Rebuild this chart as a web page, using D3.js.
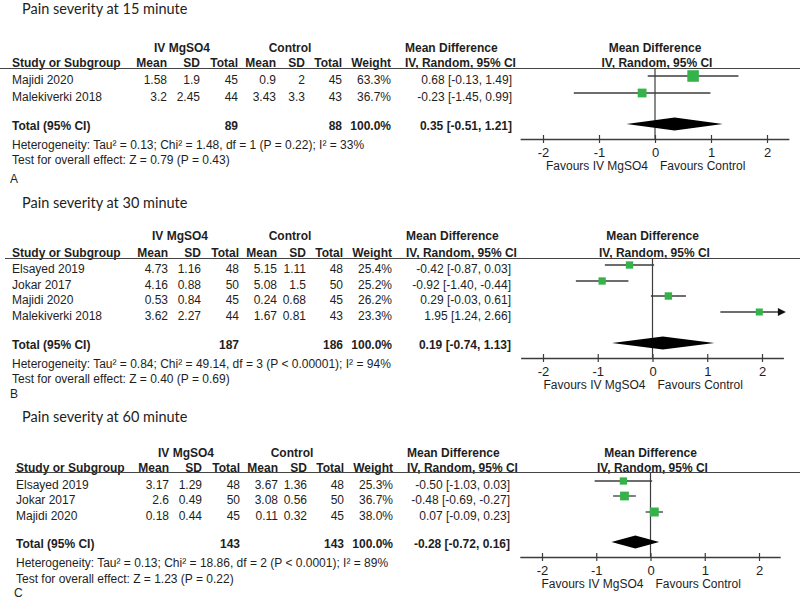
<!DOCTYPE html>
<html><head><meta charset="utf-8">
<script src="https://cdn.jsdelivr.net/npm/d3@7"></script>
<style>body{margin:0;background:#fff} svg{display:block}</style>
</head><body><svg id="c" width="800" height="599"></svg>
<script>
// ---- data ----
const panelTitles = ["Pain severity at 15 minute", "Pain severity at 30 minute", "Pain severity at 60 minute"];
const panelLetters = ["A", "B", "C"];
const tickValues = [-2, -1, 0, 1, 2];
const totalWeight = 100.0;

// A: 15 minute
const studiesA = ["Majidi 2020", "Malekiverki 2018"];
const mgA = [[1.58, 1.9, 45], [3.2, 2.45, 44]];          // mean, sd, total
const ctlA = [[0.9, 2, 45], [3.43, 3.3, 43]];
const weightA = [63.3, 36.7];
const mdA = [[0.68, -0.13, 1.49], [-0.23, -1.45, 0.99]]; // md, lo, hi
const totalNA = [89, 88];
const totalMdA = [0.35, -0.51, 1.21];
const hetA = "Heterogeneity: Tau\u00b2 = 0.13; Chi\u00b2 = 1.48, df = 1 (P = 0.22); I\u00b2 = 33%";
const testA = "Test for overall effect: Z = 0.79 (P = 0.43)";

// B: 30 minute
const studiesB = ["Elsayed 2019", "Jokar 2017", "Majidi 2020", "Malekiverki 2018"];
const mgB = [[4.73, 1.16, 48], [4.16, 0.88, 50], [0.53, 0.84, 45], [3.62, 2.27, 44]];
const ctlB = [[5.15, 1.11, 48], [5.08, 1.5, 50], [0.24, 0.68, 45], [1.67, 0.81, 43]];
const weightB = [25.4, 25.2, 26.2, 23.3];
const mdB = [[-0.42, -0.87, 0.03], [-0.92, -1.40, -0.44], [0.29, -0.03, 0.61], [1.95, 1.24, 2.66]];
const totalNB = [187, 186];
const totalMdB = [0.19, -0.74, 1.13];
const hetB = "Heterogeneity: Tau\u00b2 = 0.84; Chi\u00b2 = 49.14, df = 3 (P < 0.00001); I\u00b2 = 94%";
const testB = "Test for overall effect: Z = 0.40 (P = 0.69)";

// C: 60 minute
const studiesC = ["Elsayed 2019", "Jokar 2017", "Majidi 2020"];
const mgC = [[3.17, 1.29, 48], [2.6, 0.49, 50], [0.18, 0.44, 45]];
const ctlC = [[3.67, 1.36, 48], [3.08, 0.56, 50], [0.11, 0.32, 45]];
const weightC = [25.3, 36.7, 38.0];
const mdC = [[-0.50, -1.03, 0.03], [-0.48, -0.69, -0.27], [0.07, -0.09, 0.23]];
const totalNC = [143, 143];
const totalMdC = [-0.28, -0.72, 0.16];
const hetC = "Heterogeneity: Tau\u00b2 = 0.13; Chi\u00b2 = 18.86, df = 2 (P < 0.0001); I\u00b2 = 89%";
const testC = "Test for overall effect: Z = 1.23 (P = 0.22)";

// ---- layout ----
const panels = [
  {studies: studiesA, mg: mgA, ctl: ctlA, w: weightA, md: mdA, tn: totalNA, tmd: totalMdA, het: hetA, test: testA,
   L: {title: 14, grp: 52, hdr: 67, line: 68, lineX0: 0, rows: [84, 101], total: 130, het: 149, test: 164, letter: 183,
       axisY: 139, xr: [543, 767], left: 12, dx: 0, grpC: [182, 290]}},
  {studies: studiesB, mg: mgB, ctl: ctlB, w: weightB, md: mdB, tn: totalNB, tmd: totalMdB, het: hetB, test: testB,
   L: {title: 208, grp: 240, hdr: 257, line: 258, lineX0: 5, rows: [273, 289, 304, 320], total: 349, het: 368, test: 383, letter: 398,
       axisY: 358, xr: [543, 762], left: 12, dx: 1, grpC: [180, 290]}},
  {studies: studiesC, mg: mgC, ctl: ctlC, w: weightC, md: mdC, tn: totalNC, tmd: totalMdC, het: hetC, test: testC,
   L: {title: 422, grp: 457, hdr: 472, line: 472, lineX0: 15, rows: [489, 504, 520], total: 548, het: 567, test: 583, letter: 597,
       axisY: 557, xr: [542, 759], left: 16, dx: 2, grpC: [186, 292]}}
];

const svg = d3.select("#c");
const FONT = "'Liberation Sans', Arial, sans-serif";
const TXT = "#1e1e1e";
const LINE = "#3c3c3c";
const GREEN = "#35b34a";
const sizeScale = d3.scaleSqrt().domain([0, 100]).range([0, 14.5]);

function txt(g, x, y, s, opts = {}) {
  return g.append("text").attr("x", x).attr("y", y).text(s)
    .attr("font-family", opts.family || FONT)
    .attr("font-size", opts.size || 12)
    .attr("font-weight", opts.bold ? "bold" : "normal")
    .attr("text-anchor", opts.anchor || "start")
    .attr("fill", TXT);
}

const fmtMd = r => `${r[0].toFixed(2)} [${r[1].toFixed(2)}, ${r[2].toFixed(2)}]`;

panels.forEach((p, pi) => {
  const L = p.L;
  const g = svg.append("g");
  const cx = [167, 200, 238, 276, 305, 342, 391].map(v => v + L.dx);

  // title & letter
  txt(g, 22, L.title, panelTitles[pi], {family: "Lato, 'Open Sans', sans-serif", size: 14.5});
  txt(g, L.left - 2, L.letter, panelLetters[pi], {size: 12});

  // group headers
  txt(g, L.grpC[0], L.grp, "IV MgSO4", {bold: true, anchor: "middle"});
  txt(g, L.grpC[1], L.grp, "Control", {bold: true, anchor: "middle"});
  txt(g, 405 + L.dx, L.grp, "Mean Difference", {bold: true});

  // x scale for forest plot
  const x = d3.scaleLinear().domain([-2.4, 2.4])
    .range([L.xr[0] - 0.4 * (L.xr[1] - L.xr[0]) / 4, L.xr[1] + 0.4 * (L.xr[1] - L.xr[0]) / 4]);
  const x0 = x(0);
  txt(g, x0, L.grp, "Mean Difference", {bold: true, anchor: "middle"});

  // column headers
  txt(g, L.left, L.hdr, "Study or Subgroup", {bold: true});
  ["Mean", "SD", "Total", "Mean", "SD", "Total", "Weight"].forEach((h, i) =>
    txt(g, cx[i], L.hdr, h, {bold: true, anchor: "end"}));
  txt(g, 405 + L.dx, L.hdr, "IV, Random, 95% CI", {bold: true});
  txt(g, x0 + 2, L.hdr, "IV, Random, 95% CI", {bold: true, anchor: "middle"});

  g.append("line").attr("x1", L.lineX0).attr("x2", 800).attr("y1", L.line + 0.5).attr("y2", L.line + 0.5)
    .attr("stroke", "#444").attr("stroke-width", 1.2);

  // rows
  p.studies.forEach((s, i) => {
    const y = L.rows[i];
    txt(g, L.left, y, s);
    const vals = [p.mg[i][0], p.mg[i][1], p.mg[i][2], p.ctl[i][0], p.ctl[i][1], p.ctl[i][2]];
    vals.forEach((v, j) => txt(g, cx[j], y, String(v), {anchor: "end"}));
    txt(g, cx[6], y, p.w[i].toFixed(1) + "%", {anchor: "end"});
    txt(g, 512 - L.dx, y, fmtMd(p.md[i]), {anchor: "end"});
  });

  // totals
  txt(g, L.left, L.total, "Total (95% CI)", {bold: true});
  txt(g, cx[2], L.total, String(p.tn[0]), {bold: true, anchor: "end"});
  txt(g, cx[5], L.total, String(p.tn[1]), {bold: true, anchor: "end"});
  txt(g, cx[6], L.total, totalWeight.toFixed(1) + "%", {bold: true, anchor: "end"});
  txt(g, 512 - L.dx, L.total, fmtMd(p.tmd), {bold: true, anchor: "end"});
  txt(g, L.left, L.het, p.het);
  txt(g, L.left, L.test, p.test);

  // forest plot: zero line
  g.append("line").attr("x1", x0).attr("x2", x0).attr("y1", L.line).attr("y2", L.axisY)
    .attr("stroke", LINE).attr("stroke-width", 1.2);

  // axis
  const axis = d3.axisBottom(x).tickValues(tickValues).tickFormat(d => String(d)).tickSize(4).tickPadding(5);
  const ag = g.append("g").attr("transform", `translate(0,${L.axisY})`).call(axis);
  ag.select(".domain").attr("d", `M${x.range()[0]},0.5H${x.range()[1]}`).attr("stroke", LINE).attr("stroke-width", 1.3);
  ag.selectAll(".tick line").attr("y1", -4).attr("y2", 4).attr("stroke", LINE).attr("stroke-width", 1.2);
  ag.selectAll(".tick text").attr("font-family", FONT).attr("font-size", 13).attr("fill", TXT);
  txt(g, x0 - 7, L.axisY + 31, "Favours IV MgSO4", {anchor: "end", size: 12});
  txt(g, x0 + 5, L.axisY + 31, "Favours Control", {size: 12});

  const [dmin, dmax] = x.domain();
  // study CIs and squares
  p.md.forEach((r, i) => {
    const y = L.rows[i] - 8;
    const lo = Math.max(r[1], dmin), hi = Math.min(r[2], dmax);
    g.append("line").attr("x1", x(lo)).attr("x2", x(hi)).attr("y1", y).attr("y2", y)
      .attr("stroke", LINE).attr("stroke-width", 1.3);
    if (r[2] > dmax) {
      const xe = x(dmax);
      g.append("path").attr("d", `M${xe + 2},${y}L${xe - 6},${y - 4}L${xe - 6},${y + 4}Z`).attr("fill", "#111");
    }
    if (r[1] < dmin) {
      const xe = x(dmin);
      g.append("path").attr("d", `M${xe - 2},${y}L${xe + 6},${y - 4}L${xe + 6},${y + 4}Z`).attr("fill", "#111");
    }
    const s = sizeScale(p.w[i]);
    g.append("rect").attr("x", x(r[0]) - s / 2).attr("y", y - s / 2).attr("width", s).attr("height", s)
      .attr("fill", GREEN);
  });

  // pooled diamond
  const yd = L.total - 6;
  const t = p.tmd;
  g.append("path")
    .attr("d", `M${x(t[1])},${yd}L${x(t[0])},${yd - 6.5}L${x(t[2])},${yd}L${x(t[0])},${yd + 6.5}Z`)
    .attr("fill", "#000");
});
</script>
</body></html>
